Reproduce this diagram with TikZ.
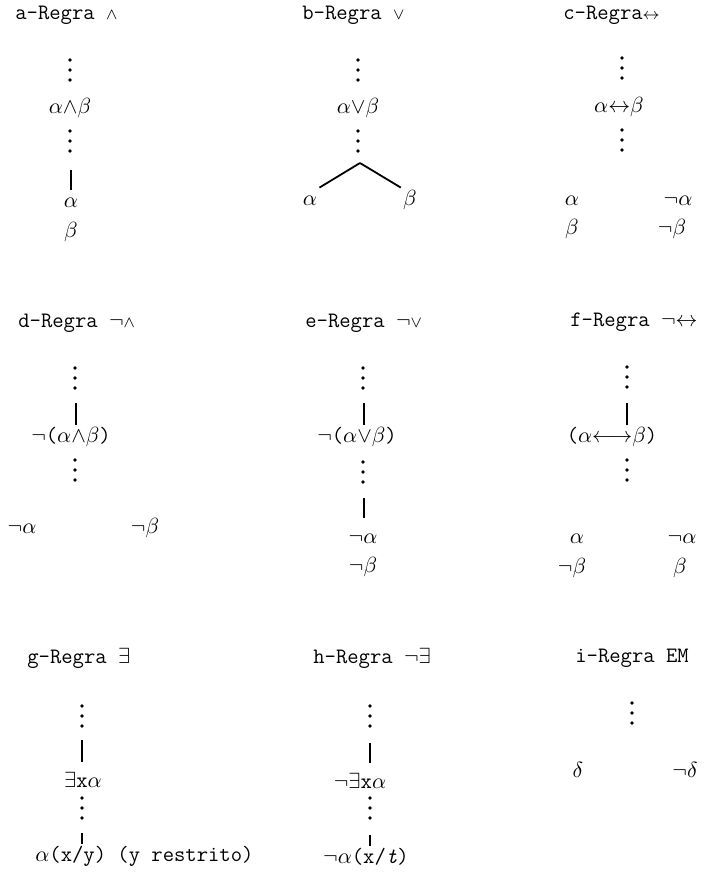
\documentclass[tikz,border=0pt]{standalone}
\usepackage{fontspec}
\usetikzlibrary{positioning}
% operators without the math spacing
\newcommand{\e}{{\wedge}}
\newcommand{\ou}{{\vee}}
\newcommand{\bic}{{\leftrightarrow}}
% three dots, top one at (#1,#2)
\newcommand{\tresp}[2]{\fill (#1,#2) circle (0.9pt) (#1,#2+10) circle (0.9pt) (#1,#2+20) circle (0.9pt);}

\begin{document}
\begin{tikzpicture}[x=0.5pt,y=-0.5pt,
    font=\ttfamily\fontsize{11}{13}\selectfont,
    titulo/.style={anchor=west,inner sep=0pt},
    form/.style={inner sep=1pt,text height=7.5pt,text depth=2.5pt},
    ramo/.style={line width=0.9pt}]
    \useasboundingbox (0,0) rectangle (705,879);
    % a
    \node[titulo] (a-tit) at (15,15) {a-Regra $\scriptstyle\wedge$};
    \tresp{70}{60}
    \node[form] (a-conj) at (70,108) {$\alpha\e\beta$};
    \tresp{70}{131}
    \coordinate (a-l) at (71,170);
    \node[form] (a-alfa) at (71,202) {$\alpha$};
    \node[form] (a-beta) at (71,232) {$\beta$};
    \draw[ramo] (a-l) -- (a-alfa);
    % b
    \node[titulo] (b-tit) at (302,15) {b-Regra $\scriptstyle\vee$};
    \tresp{358}{60}
    \node[form] (b-disj) at (358,108) {$\alpha\ou\beta$};
    \tresp{358}{131}
    \coordinate (b-garfo) at (360,163);
    \node[form] (b-alfa) at (310,200) {$\alpha$};
    \node[form] (b-beta) at (410,200) {$\beta$};
    \draw[ramo] (b-garfo) -- (b-alfa.north east);
    \draw[ramo] (b-garfo) -- (b-beta.north west);
    % c
    \node[titulo] (c-tit) at (563,15) {c-Regra$\scriptstyle\leftrightarrow$};
    \tresp{622}{58}
    \node[form] (c-bic) at (619,107) {$\alpha\bic\beta$};
    \tresp{622}{130}
    \node[form] (c-a) at (572,200) {$\alpha$};
    \node[form] (c-na) at (678,200) {$\neg\alpha$};
    \node[form] (c-b) at (572,229) {$\beta$};
    \node[form] (c-nb) at (672,229) {$\neg\beta$};
    % d
    \node[titulo] (d-tit) at (18,323) {d-Regra $\neg\scriptstyle\wedge$};
    \tresp{75}{368}
    \coordinate (d-l) at (76,403);
    \node[form] (d-neg) at (71,437) {$\neg$($\alpha\e\beta$)};
    \draw[ramo] (d-l) -- (d-l |- d-neg.north);
    \tresp{75}{460}
    \node[form] (d-na) at (22,528) {$\neg\alpha$};
    \node[form] (d-nb) at (145,528) {$\neg\beta$};
    % e
    \node[titulo] (e-tit) at (305,323) {e-Regra $\neg\scriptstyle\vee$};
    \tresp{363}{368}
    \coordinate (e-l1) at (364,403);
    \node[form] (e-neg) at (357,437) {$\neg$($\alpha\ou\beta$)};
    \draw[ramo] (e-l1) -- (e-l1 |- e-neg.north);
    \tresp{363}{462}
    \coordinate (e-l2) at (364,498);
    \node[form] (e-na) at (363,538) {$\neg\alpha$};
    \node[form] (e-nb) at (363,567) {$\neg\beta$};
    \draw[ramo,shorten >=4pt] (e-l2) -- (e-l2 |- e-na.north);
    % f
    \node[titulo] (f-tit) at (570,322) {f-Regra $\neg\bic$};
    \tresp{627}{367}
    \coordinate (f-l) at (627,403);
    \node[form] (f-bic) at (612,437) {($\alpha{\longleftrightarrow}\beta$)};
    \draw[ramo] (f-l) -- (f-l |- f-bic.north);
    \tresp{627}{460}
    \node[form] (f-a) at (577,538) {$\alpha$};
    \node[form] (f-na) at (682,538) {$\neg\alpha$};
    \node[form] (f-nb) at (572,568) {$\neg\beta$};
    \node[form] (f-b) at (680,568) {$\beta$};
    % g
    \node[titulo] (g-tit) at (27,658) {g-Regra $\exists$};
    \tresp{82}{706}
    \coordinate (g-l1) at (82,740);
    \node[form] (g-ex) at (83,782) {$\exists$x$\alpha$};
    \draw[ramo,shorten >=4pt] (g-l1) -- (g-l1 |- g-ex.north);
    \tresp{82}{798}
    \coordinate (g-l2) at (82,833);
    \node[form,anchor=west] (g-sub) at (33,856) {$\alpha$(x/y) (y restrito)};
    \draw[ramo] (g-l2) -- (g-l2 |- g-sub.north);
    % h
    \node[titulo] (h-tit) at (313,658) {h-Regra $\neg\exists$};
    \tresp{370}{706}
    \coordinate (h-l1) at (370,743);
    \node[form] (h-nex) at (360,783) {$\neg\exists$x$\alpha$};
    \draw[ramo,shorten >=4pt] (h-l1) -- (h-l1 |- h-nex.north);
    \tresp{370}{798}
    \coordinate (h-l2) at (370,835);
    \node[form] (h-sub) at (366,858) {$\neg\alpha$(x/\textit{t})};
    \draw[ramo] (h-l2) -- (h-l2 |- h-sub.north);
    % i
    \node[titulo] (i-tit) at (575,658) {i-Regra EM};
    \tresp{632}{703}
    \node[form] (i-d) at (578,772) {$\delta$};
    \node[form] (i-nd) at (685,772) {$\neg\delta$};
\end{tikzpicture}
\end{document}
